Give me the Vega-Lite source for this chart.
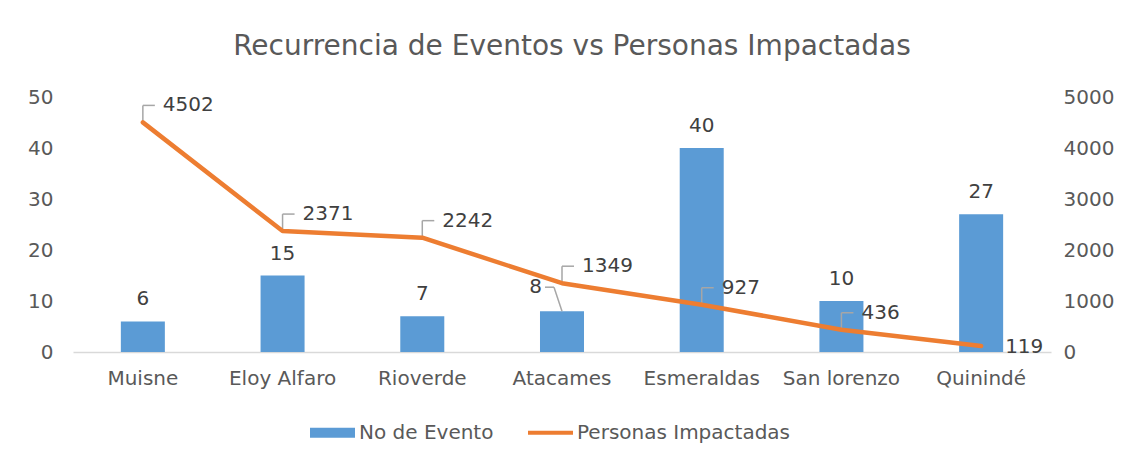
{
  "$schema": "https://vega.github.io/schema/vega-lite/v6.json",
  "width": 978,
  "height": 255,
  "autosize": {"type": "none"},
  "padding": {"left": 73, "top": 97, "right": 82, "bottom": 113},
  "background": "white",
  "title": {
    "text": "Recurrencia de Eventos vs Personas Impactadas",
    "font": "DejaVu Sans",
    "fontSize": 28,
    "fontWeight": "normal",
    "color": "#595959",
    "anchor": "middle",
    "dx": 10,
    "offset": 26
  },
  "config": {
    "view": {"stroke": null},
    "font": "DejaVu Sans",
    "axis": {"grid": false, "ticks": false, "labelFont": "DejaVu Sans", "labelFontSize": 20, "labelColor": "#595959", "title": null},
    "legend": {"labelFont": "DejaVu Sans", "labelFontSize": 20, "labelColor": "#595959", "padding": 0}
  },
  "data": {
    "values": [
      {"municipio": "Muisne", "eventos": 6, "personas": 4502},
      {"municipio": "Eloy Alfaro", "eventos": 15, "personas": 2371},
      {"municipio": "Rioverde", "eventos": 7, "personas": 2242},
      {"municipio": "Atacames", "eventos": 8, "personas": 1349},
      {"municipio": "Esmeraldas", "eventos": 40, "personas": 927},
      {"municipio": "San lorenzo", "eventos": 10, "personas": 436},
      {"municipio": "Quinindé", "eventos": 27, "personas": 119}
    ]
  },
  "encoding": {
    "x": {
      "field": "municipio",
      "type": "nominal",
      "sort": null,
      "scale": {"paddingInner": 0.685, "paddingOuter": 0.3425},
      "axis": {"labelAngle": 0, "domainColor": "#D9D9D9", "domainWidth": 1.5, "labelPadding": 16, "title": null}
    }
  },
  "layer": [
    {
      "encoding": {
        "y": {
          "field": "eventos",
          "type": "quantitative",
          "scale": {"domain": [0, 50], "nice": false},
          "axis": {"values": [0, 10, 20, 30, 40, 50], "domain": false, "labelPadding": 20, "title": null}
        }
      },
      "layer": [
        {
          "mark": {"type": "bar"},
          "encoding": {
            "color": {
              "datum": "No de Evento",
              "type": "nominal",
              "scale": {"domain": ["No de Evento", "Personas Impactadas"], "range": ["#5B9BD5", "#ED7D31"]},
              "legend": {
                "title": null,
                "orient": "none",
                "legendX": 237,
                "legendY": 313,
                "direction": "horizontal",
                "symbolSize": 2025,
                "labelOffset": 4,
                "columnPadding": 34,
                "labelLimit": 400,
                "encode": {
                  "symbols": {
                    "update": {
                      "shape": [
                        {"test": "datum.value === 'No de Evento'", "value": "M-1,-0.22H1V0.22H-1Z"},
                        {"value": "M-1,-0.09H1V0.09H-1Z"}
                      ],
                      "fill": {"scale": "color", "field": "value"},
                      "strokeWidth": {"value": 0},
                      "opacity": {"value": 1}
                    }
                  }
                }
              }
            }
          }
        },
        {
          "transform": [{"filter": "datum.municipio !== 'Atacames'"}],
          "mark": {"type": "text", "baseline": "middle", "dy": -22, "fontSize": 20, "color": "#404040"},
          "encoding": {"text": {"field": "eventos", "type": "quantitative"}}
        },
        {
          "transform": [{"filter": "datum.municipio === 'Atacames'"}],
          "mark": {"type": "text", "baseline": "middle", "align": "right", "dx": -20, "dy": -24, "fontSize": 20, "color": "#404040"},
          "encoding": {"text": {"field": "eventos", "type": "quantitative"}}
        },
        {
          "transform": [{"filter": "datum.municipio === 'Atacames'"}],
          "mark": {"type": "rule", "color": "#A6A6A6", "strokeWidth": 1.5, "yOffset": -24, "xOffset": -17, "x2Offset": -8},
          "encoding": {"x2": {"field": "municipio"}}
        },
        {
          "transform": [{"filter": "datum.municipio === 'Atacames'"}],
          "mark": {"type": "rule", "color": "#A6A6A6", "strokeWidth": 1.5, "xOffset": -8, "yOffset": -24, "x2Offset": 0, "y2Offset": 0},
          "encoding": {"x2": {"field": "municipio"}, "y2": {"field": "eventos"}}
        }
      ]
    },
    {
      "encoding": {
        "y": {
          "field": "personas",
          "type": "quantitative",
          "scale": {"domain": [0, 5000], "nice": false},
          "axis": {"orient": "right", "values": [0, 1000, 2000, 3000, 4000, 5000], "format": "d", "domain": false, "labelPadding": 12, "title": null}
        }
      },
      "layer": [
        {
          "transform": [{"filter": "datum.municipio !== 'Quinindé'"}],
          "mark": {"type": "rule", "color": "#A6A6A6", "strokeWidth": 1.5, "y2Offset": -17},
          "encoding": {"y2": {"field": "personas"}}
        },
        {
          "transform": [{"filter": "datum.municipio !== 'Quinindé'"}],
          "mark": {"type": "rule", "color": "#A6A6A6", "strokeWidth": 1.5, "yOffset": -17, "y2Offset": -17, "x2Offset": 12},
          "encoding": {"x2": {"field": "municipio"}, "y2": {"field": "personas"}}
        },
        {
          "mark": {"type": "line", "strokeWidth": 4.5, "strokeCap": "round", "strokeJoin": "round"},
          "encoding": {
            "color": {"datum": "Personas Impactadas", "type": "nominal"}
          }
        },
        {
          "transform": [{"filter": "datum.municipio !== 'Quinindé'"}],
          "mark": {"type": "text", "align": "left", "baseline": "middle", "dx": 20, "dy": -17, "fontSize": 20, "color": "#404040"},
          "encoding": {"text": {"field": "personas", "type": "quantitative", "format": "d"}}
        },
        {
          "transform": [{"filter": "datum.municipio === 'Quinindé'"}],
          "mark": {"type": "text", "align": "left", "baseline": "middle", "dx": 24, "dy": 1, "fontSize": 20, "color": "#404040"},
          "encoding": {"text": {"field": "personas", "type": "quantitative", "format": "d"}}
        }
      ]
    }
  ],
  "resolve": {"scale": {"y": "independent"}}
}
